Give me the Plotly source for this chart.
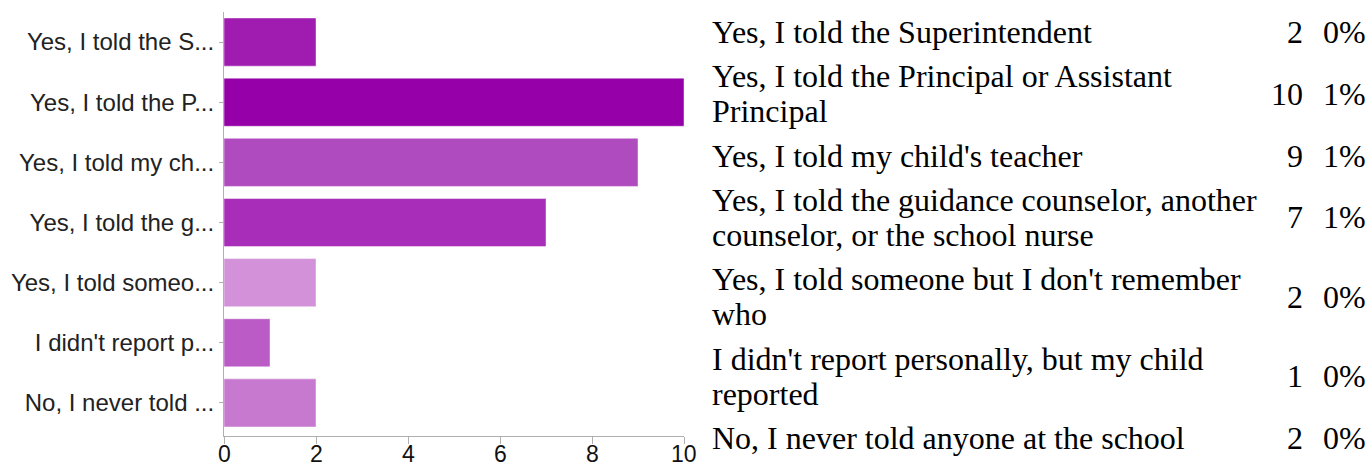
import plotly.graph_objects as go

# ---- data ----
labels = [
    "Yes, I told the Superintendent",
    "Yes, I told the Principal or Assistant Principal",
    "Yes, I told my child's teacher",
    "Yes, I told the guidance counselor, another counselor, or the school nurse",
    "Yes, I told someone but I don't remember who",
    "I didn't report personally, but my child reported",
    "No, I never told anyone at the school",
]
counts = [2, 10, 9, 7, 2, 1, 2]
percents = ["0%", "1%", "1%", "1%", "0%", "0%", "0%"]
first_line_words = [None, 7, None, 7, 8, 7, None]
bar_colors = ["#a01bb0", "#9500a8", "#b04abf", "#a82db8", "#d291d8", "#bb5cc6", "#c779d0"]
x_ticks = [0, 2, 4, 6, 8, 10]

W, H = 1367, 467
short_labels = [s[:17] + "..." for s in labels]


def px(x):
    return x / W


def py(y):
    return 1 - y / H


fig = go.Figure()
fig.add_trace(go.Bar(
    x=counts, y=short_labels, orientation="h",
    marker=dict(color=bar_colors, line=dict(color="rgba(255,255,255,0.45)", width=1)),
    width=0.8, hoverinfo="x+y",
))

fig.update_layout(
    width=W, height=H,
    margin=dict(l=0, r=0, t=0, b=0, autoexpand=False),
    paper_bgcolor="white", plot_bgcolor="white",
    showlegend=False,
    xaxis=dict(
        domain=[px(224), px(684)], range=[0, 10], tickvals=x_ticks, automargin=False,
        showticklabels=False,
        showgrid=False, zeroline=False, showline=True, linecolor="#b0b0b0", linewidth=1,
        ticks="outside", ticklen=7, tickcolor="#b0b0b0",
    ),
    yaxis=dict(
        domain=[py(436), py(12)], range=[6.55, -0.5], type="category", automargin=False,
        showgrid=False, zeroline=False, showline=True, linecolor="#b0b0b0", linewidth=1,
        ticks="outside", ticklen=4, tickcolor="#b0b0b0",
        tickfont=dict(family="Liberation Sans, Arial", size=24, color="#222222"),
    ),
)

annotations = []
# x tick labels placed on the x axis scale, just below the tick marks
for t in x_ticks:
    annotations.append(dict(
        x=t, y=py(454), xref="x", yref="paper", xanchor="center", yanchor="middle",
        borderpad=0, text=str(t), showarrow=False,
        font=dict(family="Liberation Sans, Arial", size=23, color="#111111"),
    ))

# ---- right-hand table ----
FS = 32
serif = "Liberation Serif, Times New Roman"
baseline = 42.0
line_step = 35
row_step = 44.3
for i, lab in enumerate(labels):
    words = lab.split(" ")
    n = first_line_words[i]
    lines = [lab] if n is None else [" ".join(words[:n]), " ".join(words[n:])]
    bls = []
    for j, ln in enumerate(lines):
        b = baseline + j * line_step
        bls.append(b)
        annotations.append(dict(
            x=px(710), y=py(b - 10), xref="paper", yref="paper",
            xanchor="left", yanchor="middle", text=ln, showarrow=False,
            font=dict(family=serif, size=FS, color="#000000"),
        ))
    mid = sum(bls) / len(bls)
    annotations.append(dict(
        x=px(1305), y=py(mid - 10), xref="paper", yref="paper",
        xanchor="right", yanchor="middle", text=str(counts[i]), showarrow=False,
        font=dict(family=serif, size=FS, color="#000000"),
    ))
    annotations.append(dict(
        x=px(1368), y=py(mid - 10), xref="paper", yref="paper",
        xanchor="right", yanchor="middle", text=percents[i], showarrow=False,
        font=dict(family=serif, size=FS, color="#000000"),
    ))
    baseline = bls[-1] + row_step

fig.update_layout(annotations=annotations)
fig.write_html("out.html", config={"displayModeBar": False},
               post_script="document.body.style.margin='0';")
